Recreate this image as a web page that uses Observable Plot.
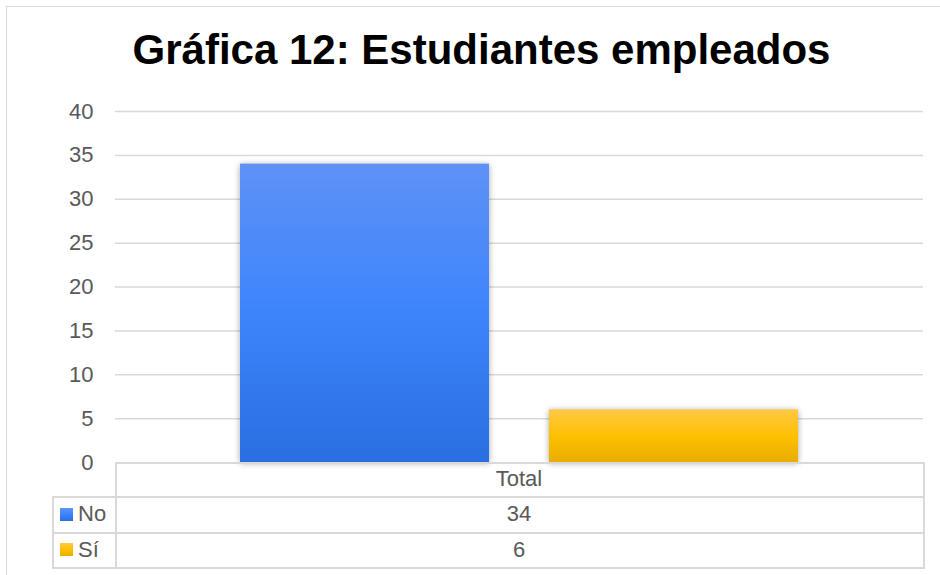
<!DOCTYPE html>
<html>
<head>
<meta charset="utf-8">
<script src="https://cdn.jsdelivr.net/npm/d3@7"></script>
<script src="https://cdn.jsdelivr.net/npm/@observablehq/plot@0.6"></script>
<style>
  html, body { margin: 0; padding: 0; background: #fff; }
  #wrap { position: relative; width: 940px; height: 575px; overflow: hidden; font-family: "Liberation Sans", Arial, sans-serif; }
  #frame { position: absolute; left: 6px; top: 6px; width: 1000px; height: 1000px; border: 1.5px solid #d9d9d9; box-sizing: border-box; }
  #title { position: absolute; left: 23px; right: 0; top: 29px; text-align: center; font-weight: bold; font-size: 42px; line-height: 42px; color: #000; white-space: nowrap; }
  #chart { position: absolute; left: 0; top: 0; }
  svg [aria-label="bar"] rect { filter: drop-shadow(0 1px 3px rgba(0,0,0,0.35)); }
  .line { position: absolute; background: #d9d9d9; }
  .cell { position: absolute; display: flex; align-items: center; font-size: 22px; color: #595959; }
  .swatch { display: inline-block; width: 13px; height: 13px; margin-right: 5px; }
</style>
</head>
<body>
<div id="wrap">
  <div id="chart"></div>
  <div id="frame"></div>
  <div id="title"></div>
  <div id="table"></div>
</div>
<script>
const title = "Gráfica 12: Estudiantes empleados";
const categories = ["Total"];
const series = ["No", "Sí"];
const values = [34, 6];
const yTicks = [0, 5, 10, 15, 20, 25, 30, 35, 40];
const seriesGradients = [
  ["#5F92F6", "#3D84FB", "#2A6FE1"],
  ["#FFC845", "#FFC000", "#E8AE00"]
];

const data = series.map((s, i) => ({series: s, value: values[i]}));
const gradId = i => "grad" + i;

const W = 940, H = 575;
const mL = 115, mR = 17, mT = 111, mB = 113;

const plot = Plot.plot({
  width: W, height: H,
  marginLeft: mL, marginRight: mR, marginTop: mT, marginBottom: mB,
  style: {fontFamily: "'Liberation Sans', Arial, sans-serif", fontSize: "22px", color: "#595959", background: "transparent", overflow: "visible"},
  x: {domain: series, paddingInner: 0.1935, paddingOuter: 0.4, axis: null},
  y: {domain: [0, 40], ticks: yTicks, tickSize: 0, tickPadding: 22, label: null},
  color: {domain: series, range: series.map((s, i) => `url(#${gradId(i)})`)},
  marks: [
    Plot.ruleY(yTicks.filter(t => t > 0), {stroke: "#d9d9d9", strokeWidth: 1.5}),
    Plot.barY(data, {x: "series", y: "value", fill: "series"})
  ]
});

const svg = d3.select(plot);
const defs = svg.insert("defs", ":first-child");
seriesGradients.forEach((stops, i) => {
  const g = defs.append("linearGradient").attr("id", gradId(i))
    .attr("x1", 0).attr("y1", 0).attr("x2", 0).attr("y2", 1);
  stops.forEach((c, j) => g.append("stop").attr("offset", (j / (stops.length - 1) * 100) + "%").attr("stop-color", c));
});
document.getElementById("chart").appendChild(plot);
document.getElementById("title").textContent = title;

// data table below the plot
const y0 = H - mB;            // table top (value 0 line)
const rowH = [34, 36, 35];    // header row, then one row per series
const tableLeft = 52, colX = mL, tableRight = W - mR;
const table = document.getElementById("table");
function line(x, y, w, h) {
  const d = document.createElement("div");
  d.className = "line";
  Object.assign(d.style, {left: x + "px", top: y + "px", width: w + "px", height: h + "px"});
  table.appendChild(d);
}
function cell(x, y, w, h, html, center) {
  const d = document.createElement("div");
  d.className = "cell";
  Object.assign(d.style, {left: x + "px", top: y + "px", width: w + "px", height: h + "px", justifyContent: center ? "center" : "flex-start"});
  d.innerHTML = html;
  table.appendChild(d);
}
const bw = 1.5;
let yy = y0;
// header
line(colX, yy, tableRight - colX, bw);
cell(colX, yy, tableRight - colX, rowH[0], categories[0], true);
yy += rowH[0];
series.forEach((s, i) => {
  line(tableLeft, yy, tableRight - tableLeft, bw);
  const st = seriesGradients[i];
  cell(tableLeft + 8, yy, colX - tableLeft - 8, rowH[i + 1],
    `<span class="swatch" style="background:linear-gradient(${st[0]},${st[1]},${st[2]})"></span>${s}`, false);
  cell(colX, yy, tableRight - colX, rowH[i + 1], String(values[i]), true);
  yy += rowH[i + 1];
});
line(tableLeft, yy, tableRight - tableLeft, bw);
line(tableLeft, y0 + rowH[0], bw, yy - y0 - rowH[0] + bw);
line(colX, y0, bw, yy - y0 + bw);
line(tableRight, y0, bw, yy - y0 + bw);
</script>
</body>
</html>
